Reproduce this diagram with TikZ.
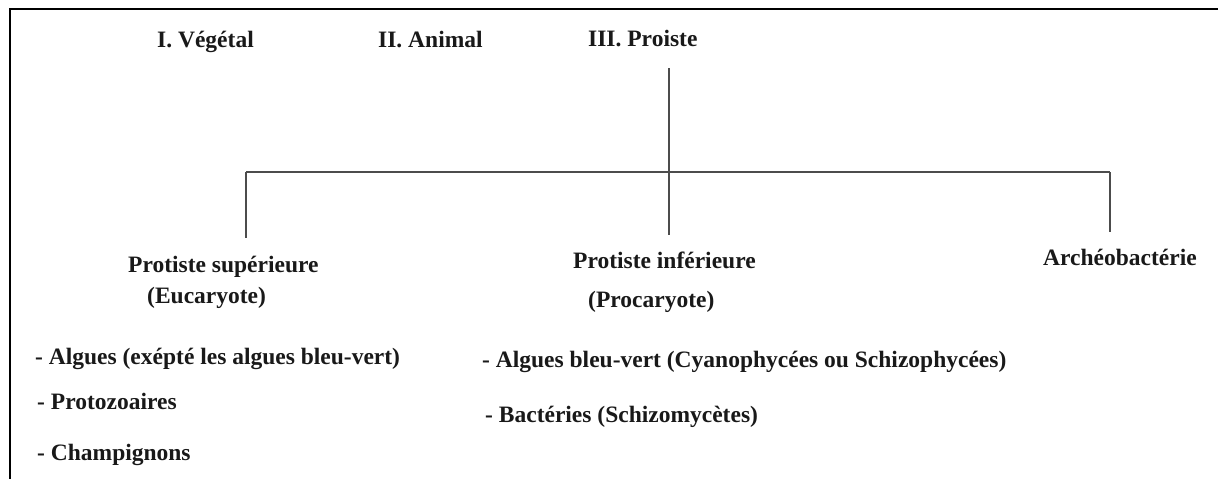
\documentclass[tikz,border=0pt]{standalone}
\usepackage{fontspec}
\setmainfont{Liberation Serif}
\begin{document}
\begin{tikzpicture}[x=1pt,y=-1pt,
  lbl/.style={anchor=base west,inner sep=0pt,font=\fontsize{23.5}{28}\selectfont\bfseries,text=black!90},
  conn/.style={draw=black!70,line width=1.6pt},
  frame/.style={draw=black,line width=2.2pt}]
\useasboundingbox (0,0) rectangle (1218,479);
\fill[white] (0,0) rectangle (1218,479);
% frame
\coordinate (ftl) at (10,9);
\coordinate (ftr) at (1218,9);
\coordinate (fbl) at (10,479);
\draw[frame] (ftr) -- (ftl) -- (fbl);
% top labels
\node[lbl] (veg) at (157,47) {I. Végétal};
\node[lbl] (ani) at (378,47) {II. Animal};
\node[lbl] (pro) at (588,46) {III. Proiste};
% second level
\node[lbl] (psup) at (128,272) {Protiste supérieure};
\node[lbl] (euc) at (147,303) {(Eucaryote)};
\node[lbl] (pinf) at (573,268) {Protiste inférieure};
\node[lbl] (proc) at (588,307) {(Procaryote)};
\node[lbl] (arch) at (1043,265) {Archéobactérie};
% lists
\node[lbl] (alg1) at (35,364) {- Algues (exépté les algues bleu-vert)};
\node[lbl] (protz) at (37,409) {- Protozoaires};
\node[lbl] (champ) at (37,460) {- Champignons};
\node[lbl] (alg2) at (482,367) {- Algues bleu-vert (Cyanophycées ou Schizophycées)};
\node[lbl] (bact) at (485,422) {- Bactéries (Schizomycètes)};
% connectors
\coordinate (ptop) at (669,68);
\coordinate (hm) at (669,172);
\coordinate (hl) at (246,172);
\coordinate (hr) at (1110,172);
\coordinate (dl) at (246,238);
\coordinate (dm) at (669,235);
\coordinate (dr) at (1110,232);
\draw[conn] (ptop) -- (hm);
\draw[conn] (hl) -- (hr);
\draw[conn] (hl) -- (dl);
\draw[conn] (hm) -- (dm);
\draw[conn] (hr) -- (dr);
\end{tikzpicture}
\end{document}
